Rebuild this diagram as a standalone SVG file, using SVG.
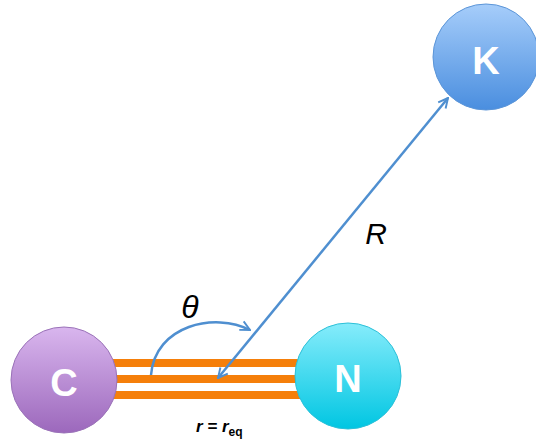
<svg xmlns="http://www.w3.org/2000/svg" width="536" height="443" viewBox="0 0 536 443">
<defs>
<linearGradient id="gC" x1="0" y1="0" x2="0" y2="1"><stop offset="0" stop-color="#d9b6ee"/><stop offset="1" stop-color="#9c68bc"/></linearGradient>
<linearGradient id="gN" x1="0" y1="0" x2="0" y2="1"><stop offset="0" stop-color="#86ecfb"/><stop offset="1" stop-color="#00c6e2"/></linearGradient>
<linearGradient id="gK" x1="0" y1="0" x2="0" y2="1"><stop offset="0" stop-color="#a6cdfa"/><stop offset="1" stop-color="#4a8edf"/></linearGradient>
<marker id="ah2" viewBox="0 0 10 10" refX="9" refY="5" markerWidth="12" markerHeight="12" orient="auto-start-reverse" markerUnits="userSpaceOnUse"><path d="M1,1 L9,5 L1,9" fill="none" stroke="#4f8fd0" stroke-width="1.6"/></marker>
<style>
.bond{stroke:#f57f0a;stroke-width:8;}
.node{stroke-width:1;}
.lbl{font-family:"Liberation Sans",Arial,sans-serif;font-weight:bold;font-size:38px;fill:#fff;text-anchor:middle;}
.conn{stroke:#4f8fd0;stroke-width:2.5;fill:none;}
.math{font-family:"Liberation Sans",Arial,sans-serif;font-style:italic;fill:#000;}
</style>
</defs>
<g id="bonds">
<line class="bond" x1="110" y1="363" x2="305" y2="363"/>
<line class="bond" x1="110" y1="379" x2="305" y2="379"/>
<line class="bond" x1="110" y1="395" x2="305" y2="395"/>
</g>
<g id="C">
<circle class="node" cx="64" cy="380" r="53" fill="url(#gC)" stroke="#9a72b8"/>
<text class="lbl" x="64" y="396">C</text>
</g>
<g id="N">
<circle class="node" cx="348" cy="376" r="53" fill="url(#gN)" stroke="#2cc0d8"/>
<text class="lbl" x="348" y="392">N</text>
</g>
<g id="K">
<circle class="node" cx="486" cy="57" r="53" fill="url(#gK)" stroke="#5b95d8"/>
<text class="lbl" x="486" y="74">K</text>
</g>
<g id="connectors">
<line class="conn" x1="448" y1="98" x2="218" y2="378" marker-start="url(#ah2)" marker-end="url(#ah2)"/>
<path class="conn" d="M151,375 C155,325 215,312 250,330" marker-end="url(#ah2)"/>
</g>
<g id="labels">
<text class="math" x="190" y="318" font-size="32" text-anchor="middle">θ</text>
<text class="math" x="376" y="244" font-size="30" text-anchor="middle">R</text>
<text class="math" x="196" y="432" font-size="17" font-weight="bold">r = r<tspan font-size="12" font-style="normal" dy="4">eq</tspan></text>
</g>
</svg>
